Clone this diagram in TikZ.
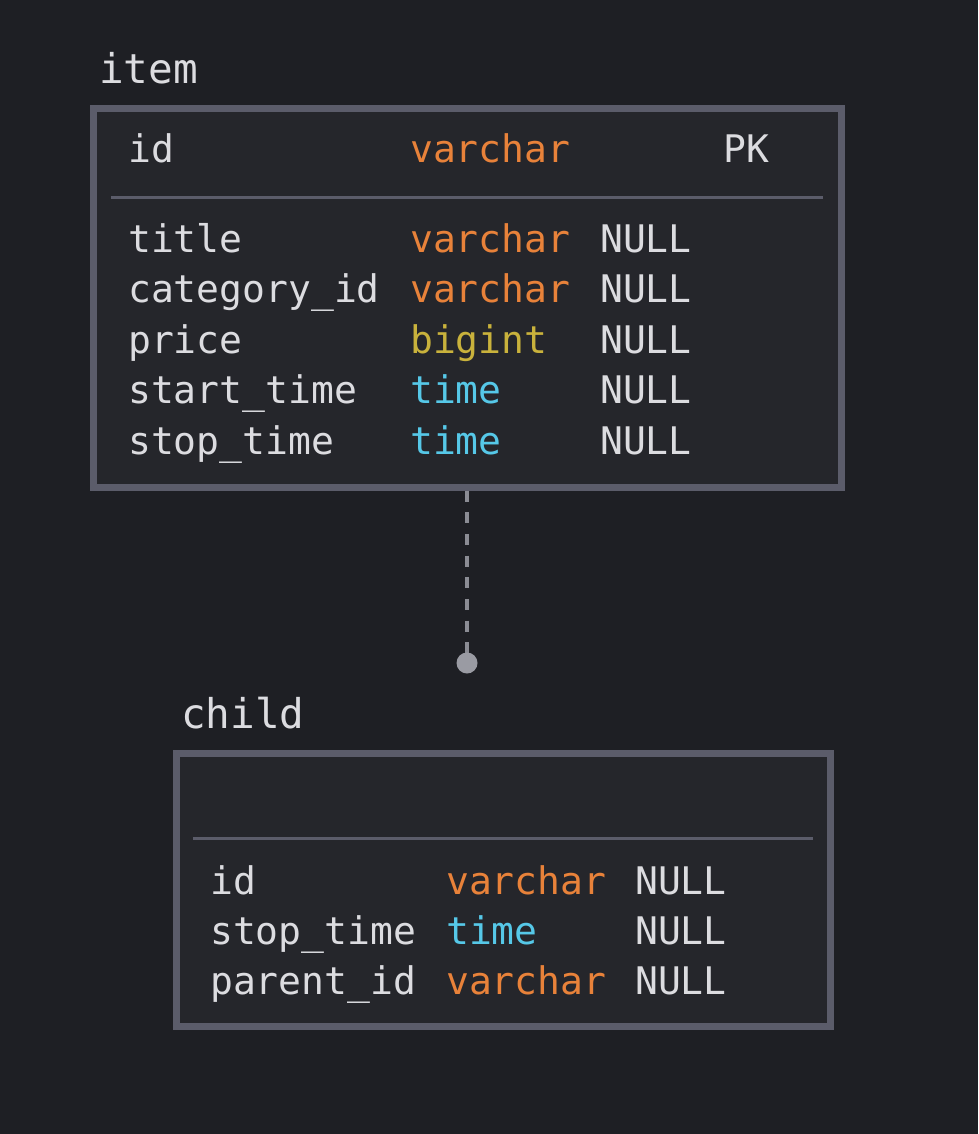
\documentclass[tikz,border=0pt]{standalone}
\usepackage{fontspec}
\usepackage{xcolor}
\usepackage{tikz}
\newfontfamily\erfont{DejaVu Sans Mono}
\definecolor{bg}{HTML}{1E1F24}
\definecolor{boxfill}{HTML}{25262B}
\definecolor{boxline}{HTML}{5B5C6A}
\definecolor{txt}{HTML}{DCDCE0}
\definecolor{tvarchar}{HTML}{E8823A}
\definecolor{tbigint}{HTML}{C9B23C}
\definecolor{ttime}{HTML}{56C8E8}
\definecolor{link}{HTML}{8B8C94}

\begin{document}
\begin{tikzpicture}[x=1pt,y=-1pt,
  every node/.style={inner sep=0pt,anchor=base west,text=txt,font=\erfont\fontsize{38}{40}\selectfont},
  tname/.style={font=\erfont\fontsize{41}{44}\selectfont},
  table/.style={draw=boxline,fill=boxfill,line width=7pt,anchor=center},
  sepline/.style={draw=boxline,line width=3pt}]

\pgfmathsetmacro{\ROW}{50.5}

% background
\fill[bg] (0,0) rectangle (978,1134);
\useasboundingbox (0,0) rectangle (978,1134);

% item table
\node[tname] (itemname) at (99,84) {item};
\node[table,minimum width=748pt,minimum height=378pt] (item) at (467,298) {};
\draw[sepline] (111,197)--(823,197);

\node (i-id) at (128,163) {id};
\node[text=tvarchar] (i-id-t) at (410,163) {varchar};
\node (i-id-k) at (723,163) {PK};

\node (i-title) at (128,252) {title};
\node[text=tvarchar] (i-title-t) at (410,252) {varchar};
\node (i-title-n) at (600,252) {NULL};

\node (i-cat) at (128,252+\ROW) {category\_id};
\node[text=tvarchar] (i-cat-t) at (410,252+\ROW) {varchar};
\node (i-cat-n) at (600,252+\ROW) {NULL};

\node (i-price) at (128,252+2*\ROW) {price};
\node[text=tbigint] (i-price-t) at (410,252+2*\ROW) {bigint};
\node (i-price-n) at (600,252+2*\ROW) {NULL};

\node (i-start) at (128,252+3*\ROW) {start\_time};
\node[text=ttime] (i-start-t) at (410,252+3*\ROW) {time};
\node (i-start-n) at (600,252+3*\ROW) {NULL};

\node (i-stop) at (128,252+4*\ROW) {stop\_time};
\node[text=ttime] (i-stop-t) at (410,252+4*\ROW) {time};
\node (i-stop-n) at (600,252+4*\ROW) {NULL};

% child table
\node[tname] (childname) at (181,728) {child};
\node[table,minimum width=654pt,minimum height=273pt] (child) at (503,890) {};
\draw[sepline] (193,838)--(813,838);

\node (c-id) at (210,894) {id};
\node[text=tvarchar] (c-id-t) at (446,894) {varchar};
\node (c-id-n) at (635,894) {NULL};

\node (c-stop) at (210,944) {stop\_time};
\node[text=ttime] (c-stop-t) at (446,944) {time};
\node (c-stop-n) at (635,944) {NULL};

\node (c-parent) at (210,994) {parent\_id};
\node[text=tvarchar] (c-parent-t) at (446,994) {varchar};
\node (c-parent-n) at (635,994) {NULL};

% relation item -> child
\coordinate (fk) at (467,663);
\draw[link,line width=4pt,dash pattern=on 11pt off 10.7pt] (item.south) -- (fk);
\fill[color={rgb,255:red,154;green,155;blue,163}] (fk) circle[radius=10.5pt];
\end{tikzpicture}
\end{document}
